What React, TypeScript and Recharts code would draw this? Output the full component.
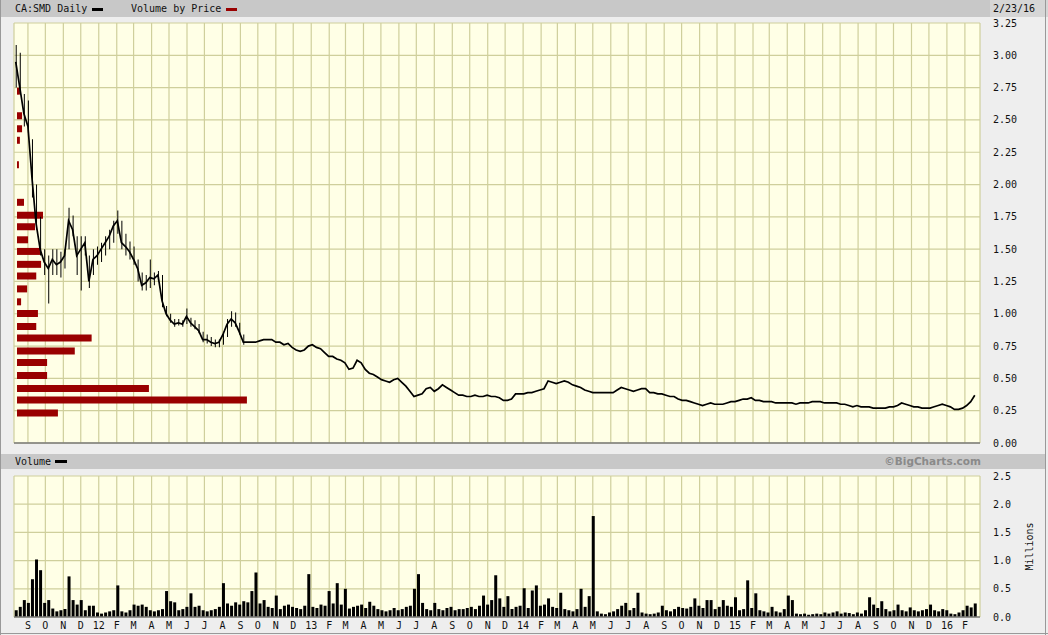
import { ComposedChart, BarChart, Bar, Line, XAxis, YAxis, CartesianGrid } from 'recharts'

// Day 0 = Mon 8 Aug 2011, one point per trading week
const START = Date.UTC(2011, 7, 8)
const DAY = 86400000
const END_DAY = 1664

// CA:SMD weekly close (CAD)
const weeklyClose = [
  2.95, 2.75, 2.55, 2.45, 2.05, 1.7, 1.5, 1.4, 1.35, 1.42,
  1.38, 1.4, 1.45, 1.72, 1.65, 1.45, 1.5, 1.55, 1.25, 1.42,
  1.45, 1.5, 1.55, 1.6, 1.68, 1.72, 1.55, 1.52, 1.48, 1.42,
  1.35, 1.22, 1.24, 1.28, 1.27, 1.3, 1.1, 1.0, 0.95, 0.92,
  0.93, 0.92, 0.98, 0.93, 0.9, 0.87, 0.8, 0.8, 0.78, 0.77,
  0.78, 0.84, 0.92, 0.96, 0.93, 0.86, 0.78, 0.78, 0.78, 0.78,
  0.79, 0.8, 0.8, 0.8, 0.78, 0.78, 0.76, 0.77, 0.74, 0.72,
  0.71, 0.72, 0.75, 0.76, 0.74, 0.73, 0.7, 0.67, 0.67, 0.65,
  0.64, 0.62, 0.57, 0.58, 0.64, 0.62, 0.57, 0.54, 0.53, 0.51,
  0.49, 0.48, 0.47, 0.49, 0.5, 0.47, 0.44, 0.4, 0.36, 0.37,
  0.38, 0.42, 0.43, 0.4, 0.42, 0.45, 0.43, 0.41, 0.39, 0.37,
  0.37, 0.36, 0.36, 0.37, 0.36, 0.36, 0.37, 0.36, 0.36, 0.35,
  0.33, 0.33, 0.34, 0.38, 0.38, 0.38, 0.39, 0.39, 0.4, 0.41,
  0.42, 0.48, 0.47, 0.46, 0.47, 0.48, 0.47, 0.45, 0.44, 0.43,
  0.41, 0.4, 0.39, 0.39, 0.39, 0.39, 0.39, 0.39, 0.41, 0.43,
  0.42, 0.41, 0.4, 0.41, 0.42, 0.42, 0.39, 0.39, 0.38, 0.38,
  0.37, 0.36, 0.36, 0.34, 0.33, 0.33, 0.32, 0.31, 0.3, 0.29,
  0.3, 0.31, 0.3, 0.3, 0.3, 0.31, 0.32, 0.32, 0.33, 0.34,
  0.34, 0.35, 0.33, 0.33, 0.32, 0.32, 0.32, 0.31, 0.31, 0.31,
  0.31, 0.31, 0.3, 0.31, 0.31, 0.31, 0.32, 0.32, 0.32, 0.31,
  0.31, 0.31, 0.31, 0.3, 0.3, 0.29, 0.28, 0.29, 0.28, 0.28,
  0.28, 0.27, 0.27, 0.27, 0.27, 0.28, 0.28, 0.29, 0.31, 0.3,
  0.29, 0.28, 0.28, 0.27, 0.27, 0.27, 0.28, 0.29, 0.3, 0.29,
  0.28, 0.26, 0.26, 0.27, 0.29, 0.32, 0.37,
]

// weekly low / high for the volatile first year
const weeklyLow = [
  2.75, 2.7, 2.45, 2.4, 1.9, 1.65, 1.45, 1.3, 1.08, 1.3,
  1.3, 1.28, 1.35, 1.5, 1.6, 1.3, 1.18, 1.45, 1.2, 1.3,
  1.38, 1.4, 1.45, 1.5, 1.55, 1.62, 1.5, 1.45, 1.42, 1.38,
  1.25, 1.18, 1.18, 1.2, 1.22, 1.25, 1.05, 0.98, 0.93, 0.9,
  0.91, 0.9, 0.92, 0.9, 0.88, 0.85, 0.78, 0.77, 0.75, 0.74,
  0.74, 0.76, 0.82, 0.9, 0.9, 0.84, 0.76,
]
const weeklyHigh = [
  3.08, 3.02, 2.7, 2.65, 2.35, 2.0, 1.75, 1.5, 1.45, 1.5,
  1.5, 1.48, 1.5, 1.82, 1.76, 1.6, 1.6, 1.6, 1.45, 1.5,
  1.52, 1.55, 1.6, 1.65, 1.72, 1.8, 1.72, 1.62, 1.56, 1.52,
  1.42, 1.32, 1.3, 1.42, 1.32, 1.33, 1.3, 1.06, 1.0, 0.96,
  0.96, 0.95, 1.04, 0.97, 0.95, 0.92, 0.86, 0.84, 0.82, 0.8,
  0.8, 0.86, 0.96, 1.02, 1.01, 0.93, 0.84,
]

// peak daily volume in each week, millions of shares
const weeklyVolume = [
  0.12, 0.18, 0.3, 0.25, 0.67, 1.02, 0.83, 0.25, 0.3, 0.15,
  0.1, 0.12, 0.14, 0.72, 0.3, 0.22, 0.3, 0.12, 0.2, 0.2,
  0.08, 0.06, 0.08, 0.1, 0.12, 0.56, 0.1, 0.08, 0.12, 0.22,
  0.2, 0.22, 0.18, 0.12, 0.1, 0.12, 0.14, 0.46, 0.28, 0.26,
  0.12, 0.14, 0.18, 0.42, 0.18, 0.2, 0.12, 0.1, 0.12, 0.14,
  0.18, 0.6, 0.24, 0.2, 0.26, 0.22, 0.28, 0.26, 0.46, 0.79,
  0.24, 0.3, 0.18, 0.16, 0.38, 0.14, 0.2, 0.22, 0.18, 0.16,
  0.14, 0.2, 0.76, 0.18, 0.16, 0.22, 0.2, 0.46, 0.24, 0.6,
  0.22, 0.5, 0.15, 0.18, 0.2, 0.22, 0.16, 0.27, 0.2, 0.14,
  0.12, 0.1, 0.12, 0.16, 0.12, 0.14, 0.18, 0.2, 0.5, 0.76,
  0.25, 0.14, 0.12, 0.25, 0.14, 0.12, 0.16, 0.18, 0.12, 0.14,
  0.14, 0.16, 0.18, 0.14, 0.2, 0.38, 0.22, 0.3, 0.74, 0.33,
  0.18, 0.37, 0.14, 0.18, 0.2, 0.51, 0.16, 0.47, 0.56, 0.2,
  0.22, 0.33, 0.18, 0.16, 0.43, 0.14, 0.12, 0.1, 0.14, 0.5,
  0.18, 0.37, 1.79, 0.1, 0.06, 0.05, 0.08, 0.1, 0.14, 0.2,
  0.25, 0.12, 0.16, 0.43, 0.08, 0.06, 0.05, 0.06, 0.08, 0.2,
  0.12, 0.1, 0.14, 0.18, 0.16, 0.15, 0.18, 0.33, 0.2, 0.16,
  0.3, 0.3, 0.14, 0.18, 0.3, 0.2, 0.18, 0.35, 0.12, 0.14,
  0.65, 0.16, 0.42, 0.12, 0.1, 0.08, 0.18, 0.1, 0.08, 0.14,
  0.38, 0.3, 0.06, 0.05, 0.06, 0.04, 0.05, 0.06, 0.05, 0.08,
  0.06, 0.08, 0.1, 0.06, 0.08, 0.07, 0.05, 0.08, 0.06, 0.12,
  0.35, 0.22, 0.16, 0.28, 0.14, 0.1, 0.12, 0.22, 0.12, 0.1,
  0.17, 0.12, 0.1, 0.12, 0.14, 0.22, 0.12, 0.1, 0.14, 0.12,
  0.06, 0.05, 0.08, 0.12, 0.2, 0.17, 0.24,
]

// volume by price (millions traded at each price band)
const vbpPrice = [
  0.23, 0.33, 0.42, 0.52, 0.62, 0.71, 0.81, 0.9, 1.0, 1.09,
  1.19, 1.29, 1.38, 1.48, 1.57, 1.67, 1.76, 1.86, 1.95, 2.05,
  2.15, 2.24, 2.34, 2.43, 2.53, 2.62, 2.72,
]
const vbpVolume = [
  1.7, 9.55, 5.48, 1.25, 1.25, 2.4, 3.1, 0.8, 0.87, 0.17,
  0.42, 0.8, 1.0, 1.0, 0.46, 0.75, 1.08, 0.29, 0, 0,
  0.08, 0, 0.12, 0.21, 0.21, 0, 0.12,
]

const priceTicks = [0, 0.25, 0.5, 0.75, 1, 1.25, 1.5, 1.75, 2, 2.25, 2.5, 2.75, 3, 3.25]
const volumeTicks = [0, 0.5, 1, 1.5, 2, 2.5]
const MONTH_LETTERS = 'JFMAMJJASOND'

const monthTicks = Array.from({ length: 54 }, (_, m) => (Date.UTC(2011, 8 + m, 1) - START) / DAY)

const weekly = weeklyClose.map((close, i) => ({
  day: i * 7 + 3,
  close,
  range: i < weeklyLow.length ? [weeklyLow[i], weeklyHigh[i]] : null,
  volume: weeklyVolume[i],
}))

const vbp = vbpPrice.map((price, i) => ({ price, volume: vbpVolume[i] }))

const monthLabel = (d: number) => {
  const dt = new Date(START + d * DAY)
  const m = dt.getUTCMonth()
  return m === 0 ? String(dt.getUTCFullYear() % 100).padStart(2, '0') : MONTH_LETTERS[m]
}

const MONO = '"DejaVu Sans Mono", monospace'
const GRID = '#cfcf9c'
const PLOT_BG = '#ffffe6'
const W = 1048

const layer: React.CSSProperties = { position: 'absolute', left: 0, top: 0 }

export default function App() {
  return (
    <div
      style={{
        position: 'absolute',
        left: 0,
        top: 0,
        width: W,
        height: 635,
        background: '#eeeeee',
        fontFamily: MONO,
        overflow: 'hidden',
      }}
    >
      {/* header bars */}
      <div style={{ position: 'absolute', left: 0, top: 0, width: 990, height: 17, background: '#c8c8c8' }} />
      <div style={{ position: 'absolute', left: 990, top: 0, width: 58, height: 17, background: '#d6d6d6' }} />
      <div style={{ position: 'absolute', left: 0, top: 454, width: 1046, height: 15, background: '#c8c8c8' }} />
      <div style={{ position: 'absolute', left: 0, top: 0, width: 1, height: 635, background: '#999' }} />
      <div style={{ position: 'absolute', left: 1045, top: 0, width: 1, height: 635, background: '#999' }} />
      <div style={{ position: 'absolute', left: 0, top: 633, width: W, height: 1, background: '#999' }} />

      <div style={{ position: 'absolute', left: 15, top: 3, fontSize: 10, lineHeight: '11px', color: '#111', whiteSpace: 'pre' }}>
        CA:SMD Daily
      </div>
      <div style={{ position: 'absolute', left: 92, top: 8, width: 11, height: 3, background: '#000' }} />
      <div style={{ position: 'absolute', left: 131, top: 3, fontSize: 10, lineHeight: '11px', color: '#111', whiteSpace: 'pre' }}>
        Volume by Price
      </div>
      <div style={{ position: 'absolute', left: 226, top: 8, width: 11, height: 3, background: '#990000' }} />
      <div style={{ position: 'absolute', left: 993, top: 3, fontSize: 10, lineHeight: '11px', color: '#111' }}>2/23/16</div>

      <div style={{ position: 'absolute', left: 15, top: 456, fontSize: 10, lineHeight: '11px', color: '#111' }}>Volume</div>
      <div style={{ position: 'absolute', left: 55, top: 460, width: 12, height: 3, background: '#000' }} />
      <div
        style={{
          position: 'absolute',
          left: 870,
          width: 111,
          top: 455,
          textAlign: 'right',
          fontFamily: '"DejaVu Sans", sans-serif',
          fontWeight: 'bold',
          fontSize: 10.5,
          lineHeight: '13px',
          color: '#8a8a8a',
        }}
      >
        ©BigCharts.com
      </div>
      <div
        style={{
          position: 'absolute',
          left: 1001,
          top: 541,
          width: 56,
          fontSize: 10,
          lineHeight: '11px',
          color: '#111',
          textAlign: 'center',
          transform: 'rotate(-90deg)',
        }}
      >
        Millions
      </div>

      {/* price panel: grid and axes (the hidden line only drives the axes) */}
      <div style={layer}>
        <ComposedChart width={W} height={452} data={weekly} margin={{ top: 23, right: 8, bottom: 8, left: 14 }}>
          <CartesianGrid stroke={GRID} fill={PLOT_BG} strokeWidth={1.2} />
          <XAxis
            dataKey="day"
            type="number"
            domain={[0, END_DAY]}
            ticks={monthTicks}
            interval={0}
            height={1}
            tickLine={false}
            tick={{ fill: 'transparent', fontSize: 1 }}
            axisLine={{ stroke: '#7a7a7a', strokeWidth: 1.5 }}
          />
          <YAxis
            orientation="right"
            type="number"
            domain={[0, 3.25]}
            ticks={priceTicks}
            interval={0}
            width={60}
            tickLine={false}
            axisLine={false}
            tickMargin={7}
            tickFormatter={(v: number) => v.toFixed(2)}
            tick={{ fontSize: 10, fill: '#111', fontFamily: MONO, textAnchor: 'start' }}
          />
          <Line dataKey="close" stroke="none" dot={false} isAnimationActive={false} />
        </ComposedChart>
      </div>

      {/* volume by price */}
      <div style={layer}>
        <BarChart
          width={W}
          height={444}
          data={vbp}
          layout="vertical"
          margin={{ top: 23, right: 68, bottom: 1, left: 17 }}
        >
          <XAxis type="number" domain={[0, 40]} hide />
          <YAxis type="number" dataKey="price" domain={[0, 3.25]} reversed hide />
          <Bar dataKey="volume" fill="#990000" barSize={7} isAnimationActive={false} />
        </BarChart>
      </div>

      {/* price line */}
      <div style={layer}>
        <ComposedChart width={W} height={444} data={weekly} margin={{ top: 23, right: 68, bottom: 1, left: 14 }}>
          <XAxis dataKey="day" type="number" domain={[0, END_DAY]} hide />
          <YAxis type="number" domain={[0, 3.25]} hide />
          <Bar dataKey="range" fill="#000" barSize={1} isAnimationActive={false} />
          <Line
            dataKey="close"
            type="linear"
            stroke="#000"
            strokeWidth={1.7}
            dot={false}
            isAnimationActive={false}
          />
        </ComposedChart>
      </div>

      {/* volume panel */}
      <div style={layer}>
        <ComposedChart width={W} height={635} data={weekly} margin={{ top: 476, right: 8, bottom: 0, left: 14 }}>
          <CartesianGrid stroke={GRID} fill={PLOT_BG} strokeWidth={1.2} />
          <XAxis
            dataKey="day"
            type="number"
            domain={[0, END_DAY]}
            ticks={monthTicks}
            interval={0}
            height={18}
            tickLine={false}
            tickSize={0}
            tickMargin={5}
            tickFormatter={monthLabel}
            axisLine={{ stroke: '#7a7a7a', strokeWidth: 1.5 }}
            tick={{ fontSize: 10, fill: '#111', fontFamily: MONO }}
          />
          <YAxis
            orientation="right"
            type="number"
            domain={[0, 2.5]}
            ticks={volumeTicks}
            width={60}
            tickLine={false}
            axisLine={false}
            tickMargin={7}
            tickFormatter={(v: number) => v.toFixed(1)}
            tick={{ fontSize: 10, fill: '#111', fontFamily: MONO, textAnchor: 'start' }}
          />
          <Bar dataKey="volume" fill="#000" barSize={3} isAnimationActive={false} />
        </ComposedChart>
      </div>
    </div>
  )
}
